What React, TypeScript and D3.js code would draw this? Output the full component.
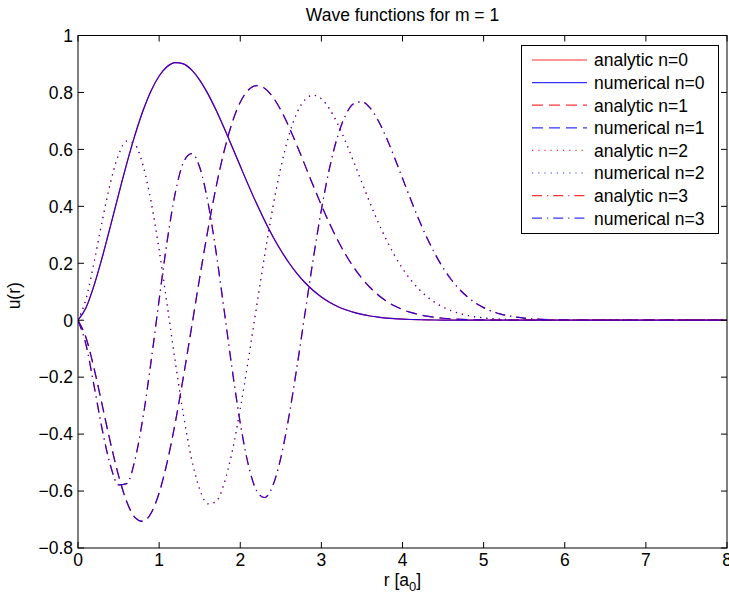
import React, { useEffect, useRef } from "react";
import * as d3 from "d3";

// radius grid (units of a0)
const R = [
  0, 0.1, 0.2, 0.3, 0.4, 0.5, 0.6, 0.7, 0.8, 0.9,
  1.0, 1.1, 1.2, 1.3, 1.4, 1.5, 1.6, 1.7, 1.8, 1.9,
  2.0, 2.1, 2.2, 2.3, 2.4, 2.5, 2.6, 2.7, 2.8, 2.9,
  3.0, 3.1, 3.2, 3.3, 3.4, 3.5, 3.6, 3.7, 3.8, 3.9,
  4.0, 4.1, 4.2, 4.3, 4.4, 4.5, 4.6,
  4.8, 5.0, 5.2, 5.4, 5.6, 5.8, 6.0, 6.5, 7.0, 7.5, 8.0,
];

const U0 = [
  0, 0.0445, 0.1240, 0.2222, 0.3303, 0.4412, 0.5490, 0.6483, 0.7348, 0.8054,
  0.8578, 0.8910, 0.9049, 0.9004, 0.8792, 0.8435, 0.7958, 0.7390, 0.6759, 0.6092,
  0.5413, 0.4745, 0.4104, 0.3503, 0.2952, 0.2456, 0.2019, 0.1639, 0.1315, 0.1042,
  0.0816, 0.0632, 0.0484, 0.0366, 0.0274, 0.0203, 0.0148, 0.0107, 0.0077, 0.0054,
  0.0038, 0.0026, 0.0018, 0.0012, 0.0008, 0.0005, 0.0004,
  0.0001, 0.0001, 0, 0, 0, 0, 0, 0, 0, 0, 0,
];

const U1 = [
  0, -0.0626, -0.1718, -0.3000, -0.4297, -0.5460, -0.6366, -0.6922, -0.7066, -0.6777,
  -0.6065, -0.4977, -0.3583, -0.1974, -0.0249, 0.1491, 0.3151, 0.4651, 0.5926, 0.6935,
  0.7656, 0.8086, 0.8241, 0.8149, 0.7848, 0.7381, 0.6794, 0.6131, 0.5429, 0.4723,
  0.4041, 0.3401, 0.2819, 0.2301, 0.1851, 0.1468, 0.1148, 0.0886, 0.0674, 0.0507,
  0.0376, 0.0275, 0.0199, 0.0142, 0.0100, 0.0070, 0.0048,
  0.0022, 0.0010, 0.0004, 0.0002, 0.0001, 0, 0, 0, 0, 0, 0,
];

const U2 = [
  0, 0.0763, 0.2062, 0.3507, 0.4830, 0.5812, 0.6291, 0.6176, 0.5451, 0.4176,
  0.2476, 0.0525, -0.1480, -0.3337, -0.4869, -0.5935, -0.6447, -0.6374, -0.5741, -0.4621,
  -0.3125, -0.1386, 0.0457, 0.2269, 0.3935, 0.5362, 0.6490, 0.7288, 0.7752, 0.7902,
  0.7777, 0.7425, 0.6901, 0.6261, 0.5556, 0.4828, 0.4115, 0.3443, 0.2830, 0.2287,
  0.1819, 0.1424, 0.1097, 0.0833, 0.0623, 0.0461, 0.0335,
  0.0170, 0.0082, 0.0037, 0.0016, 0.0007, 0.0003, 0.0001, 0, 0, 0, 0,
];

const U3 = [
  0, -0.0877, -0.2333, -0.3861, -0.5103, -0.5786, -0.5741, -0.4929, -0.3437, -0.1464,
  0.0715, 0.2793, 0.4481, 0.5545, 0.5854, 0.5371, 0.4174, 0.2434, 0.0384, -0.1715,
  -0.3609, -0.5081, -0.5980, -0.6227, -0.5822, -0.4832, -0.3380, -0.1621, 0.0279, 0.2158,
  0.3878, 0.5333, 0.6454, 0.7212, 0.7608, 0.7673, 0.7455, 0.7016, 0.6418, 0.5723,
  0.4985, 0.4248, 0.3547, 0.2903, 0.2334, 0.1842, 0.1430,
  0.0820, 0.0442, 0.0224, 0.0108, 0.0049, 0.0021, 0.0009, 0.0001, 0, 0, 0,
];

const X_TICKS = [0, 1, 2, 3, 4, 5, 6, 7, 8];
const Y_TICKS = [-0.8, -0.6, -0.4, -0.2, 0, 0.2, 0.4, 0.6, 0.8, 1];
const Y_TICK_LABELS = ["\u22120.8", "\u22120.6", "\u22120.4", "\u22120.2", "0", "0.2", "0.4", "0.6", "0.8", "1"];

const LEGEND = [
  "analytic n=0", "numerical n=0",
  "analytic n=1", "numerical n=1",
  "analytic n=2", "numerical n=2",
  "analytic n=3", "numerical n=3",
];

const WIDTH = 729;
const HEIGHT = 601;
const FONT = "'Liberation Sans', Arial, Helvetica, sans-serif";
const FS = 17.5;

const RED = "#ff0000";
const BLUE = "#0000ff";
const DASH = [null, "11,6", "1.2,5", "10,5,1.2,5"];

function drawChart(svgEl: SVGSVGElement) {
  const svg = d3.select(svgEl);
  svg.selectAll("*").remove();

  const m = { left: 78, top: 35.5, right: 727, bottom: 548 };
  const x = d3.scaleLinear().domain([0, 8]).range([m.left, m.right]);
  const y = d3.scaleLinear().domain([-0.8, 1]).range([m.bottom, m.top]);

  svg.append("rect").attr("width", WIDTH).attr("height", HEIGHT).attr("fill", "#fff");

  svg.append("defs").append("clipPath").attr("id", "plotclip")
    .append("rect")
    .attr("x", m.left).attr("y", m.top)
    .attr("width", m.right - m.left).attr("height", m.bottom - m.top);

  // curves: analytic (red) first, numerical (blue) drawn on top
  const series = [U0, U1, U2, U3];
  const line = d3.line<number>()
    .x((_, i) => x(R[i]))
    .y((d) => y(d))
    .curve(d3.curveMonotoneX);

  const plot = svg.append("g").attr("clip-path", "url(#plotclip)");
  series.forEach((vals, n) => {
    [RED, BLUE].forEach((col) => {
      plot.append("path")
        .attr("d", line(vals))
        .attr("fill", "none")
        .attr("stroke", col)
        .attr("stroke-width", 1.2)
        .attr("stroke-opacity", col === BLUE ? 0.82 : 1)
        .attr("stroke-dasharray", DASH[n])
        .attr("stroke-linecap", "butt");
    });
  });

  // box + ticks (inside, on all four sides)
  const tl = 6;
  const ax = svg.append("g").attr("stroke", "#000").attr("stroke-width", 1);
  ax.append("rect")
    .attr("x", m.left).attr("y", m.top)
    .attr("width", m.right - m.left).attr("height", m.bottom - m.top)
    .attr("fill", "none");
  X_TICKS.forEach((t) => {
    ax.append("line").attr("x1", x(t)).attr("x2", x(t)).attr("y1", m.bottom).attr("y2", m.bottom - tl);
    ax.append("line").attr("x1", x(t)).attr("x2", x(t)).attr("y1", m.top).attr("y2", m.top + tl);
  });
  Y_TICKS.forEach((t) => {
    ax.append("line").attr("x1", m.left).attr("x2", m.left + tl).attr("y1", y(t)).attr("y2", y(t));
    ax.append("line").attr("x1", m.right).attr("x2", m.right - tl).attr("y1", y(t)).attr("y2", y(t));
  });

  const txt = svg.append("g").attr("font-family", FONT).attr("font-size", FS).attr("fill", "#000");

  X_TICKS.forEach((t) => {
    txt.append("text")
      .attr("x", x(t)).attr("y", 566)
      .attr("text-anchor", "middle")
      .text(String(t));
  });
  Y_TICKS.forEach((t, i) => {
    txt.append("text")
      .attr("x", m.left - 5).attr("y", y(t))
      .attr("dy", "0.36em")
      .attr("text-anchor", "end")
      .text(Y_TICK_LABELS[i]);
  });

  // title
  txt.append("text")
    .attr("x", (m.left + m.right) / 2).attr("y", 21)
    .attr("text-anchor", "middle")
    .text("Wave functions for m = 1");

  // x label with subscript
  const xl = txt.append("text")
    .attr("x", (m.left + m.right) / 2).attr("y", 586)
    .attr("text-anchor", "middle");
  xl.append("tspan").text("r [a");
  xl.append("tspan").attr("font-size", 13).attr("dy", 5).text("0");
  xl.append("tspan").attr("dy", -5).text("]");

  // y label
  txt.append("text")
    .attr("transform", `translate(20,${(m.top + m.bottom) / 2 + 4}) rotate(-90)`)
    .attr("text-anchor", "middle")
    .text("u(r)");

  // legend
  const lg = { x: 521, y: 45, w: 197, h: 188, row: 22.6, first: 60 };
  const leg = svg.append("g");
  leg.append("rect")
    .attr("x", lg.x + 0.5).attr("y", lg.y + 0.5)
    .attr("width", lg.w).attr("height", lg.h)
    .attr("fill", "#fff").attr("stroke", "#000").attr("stroke-width", 1);

  LEGEND.forEach((label, i) => {
    const cy = lg.first + i * lg.row;
    const n = Math.floor(i / 2);
    leg.append("line")
      .attr("x1", 532).attr("x2", 587)
      .attr("y1", cy).attr("y2", cy)
      .attr("stroke", i % 2 === 0 ? RED : BLUE)
      .attr("stroke-width", 1.2)
      .attr("stroke-opacity", 0.8)
      .attr("stroke-dasharray", DASH[n]);
    leg.append("text")
      .attr("x", 594).attr("y", cy)
      .attr("dy", "0.36em")
      .attr("font-family", FONT)
      .attr("font-size", FS)
      .attr("fill", "#000")
      .text(label);
  });
}

export default function App() {
  const svgRef = useRef<SVGSVGElement>(null);

  useEffect(() => {
    if (svgRef.current) drawChart(svgRef.current);
  }, []);

  return (
    <div style={{ position: "absolute", left: 0, top: 0, width: WIDTH, height: HEIGHT }}>
      <svg ref={svgRef} width={WIDTH} height={HEIGHT} style={{ display: "block" }} />
    </div>
  );
}
